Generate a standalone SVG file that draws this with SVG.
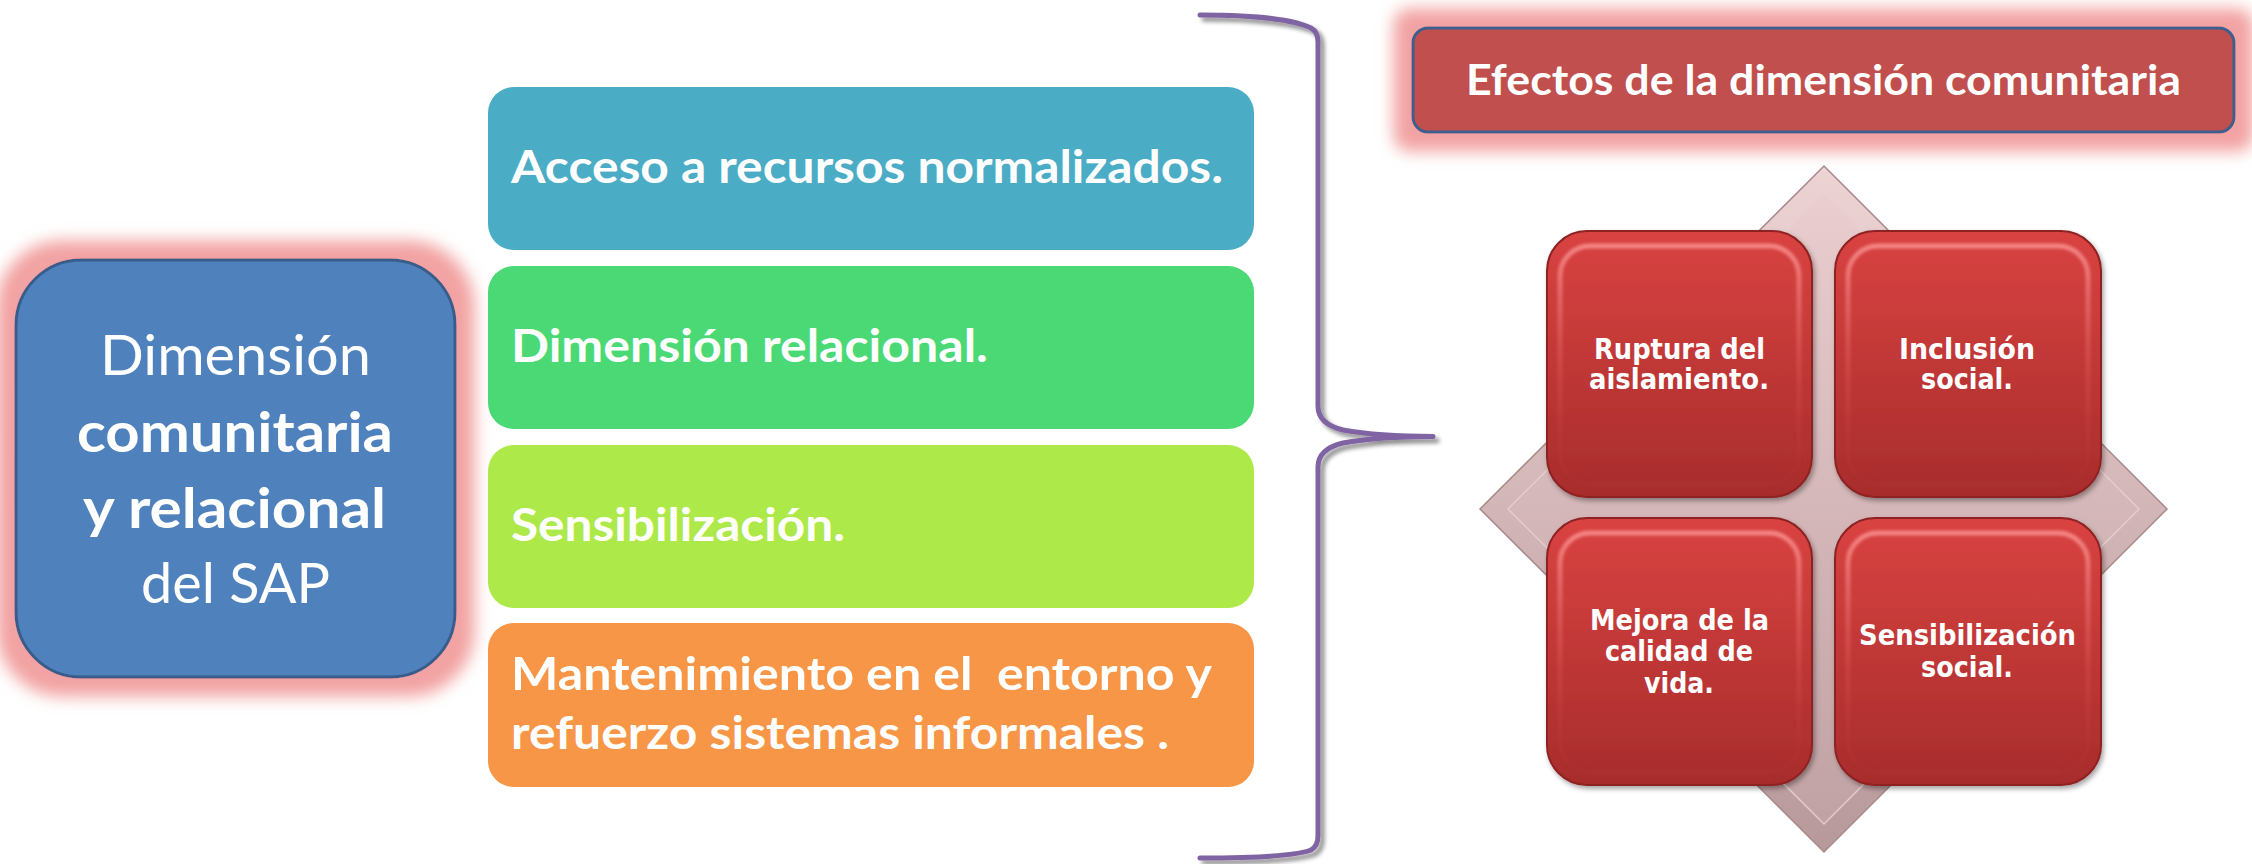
<svg xmlns="http://www.w3.org/2000/svg" width="2252" height="864" viewBox="0 0 2252 864">
<defs>
<style>
.cal{font-family:Lato,"Open Sans","Liberation Sans",sans-serif;fill:#fff}
.b{font-weight:bold}
.q{font-family:"DejaVu Sans Condensed","DejaVu Sans",sans-serif;font-weight:bold;font-size:29px;fill:#fff}
.quad{fill:url(#redGrad);stroke:#8E2222;stroke-width:2}
.bevel{fill:none;stroke:url(#bevelGrad);stroke-width:5;opacity:0.75}
</style>
<filter id="glow" x="-25%" y="-60%" width="150%" height="220%">
<feMorphology in="SourceAlpha" operator="dilate" radius="18" result="d"/>
<feGaussianBlur in="d" stdDeviation="8" result="b"/>
<feFlood flood-color="#F2A2A2" result="c"/>
<feComposite in="c" in2="b" operator="in" result="g"/>
<feMerge><feMergeNode in="g"/><feMergeNode in="SourceGraphic"/></feMerge>
</filter>
<filter id="shadow" x="-10%" y="-5%" width="130%" height="115%">
<feGaussianBlur in="SourceAlpha" stdDeviation="2" result="b"/>
<feOffset dx="4" dy="4" result="o"/>
<feFlood flood-color="#000" flood-opacity="0.45"/>
<feComposite in2="o" operator="in" result="s"/>
<feMerge><feMergeNode in="s"/><feMergeNode in="SourceGraphic"/></feMerge>
</filter>
<filter id="qshadow" x="-10%" y="-10%" width="125%" height="125%">
<feGaussianBlur in="SourceAlpha" stdDeviation="2.5" result="b"/>
<feOffset dx="2" dy="3" result="o"/>
<feFlood flood-color="#000" flood-opacity="0.35"/>
<feComposite in2="o" operator="in" result="s"/>
<feMerge><feMergeNode in="s"/><feMergeNode in="SourceGraphic"/></feMerge>
</filter>
<filter id="soft"><feGaussianBlur stdDeviation="1.5"/></filter>
<linearGradient id="redGrad" x1="0" y1="0" x2="0" y2="1">
<stop offset="0" stop-color="#D94341"/>
<stop offset="1" stop-color="#A82C2C"/>
</linearGradient>
<linearGradient id="bevelGrad" x1="0" y1="0" x2="0" y2="1">
<stop offset="0" stop-color="#FF9C9C"/>
<stop offset="0.5" stop-color="#E86060" stop-opacity="0.5"/>
<stop offset="1" stop-color="#B03030" stop-opacity="0.2"/>
</linearGradient>
<linearGradient id="diaGrad" x1="0" y1="0" x2="0" y2="1">
<stop offset="0" stop-color="#EDD3D4"/>
<stop offset="1" stop-color="#B8999B"/>
</linearGradient>
<linearGradient id="diaInner" x1="0" y1="0" x2="0" y2="1">
<stop offset="0" stop-color="#EACDCE"/>
<stop offset="1" stop-color="#C1A3A5"/>
</linearGradient>
</defs>
<rect width="2252" height="864" fill="#fff"/>

<g id="dimension-box">
<rect x="16" y="260" width="439" height="417" rx="65" fill="#4F81BD" stroke="#385D8A" stroke-width="3" filter="url(#glow)"/>
<text class="cal" font-size="56" x="100" y="375" textLength="271" lengthAdjust="spacingAndGlyphs">Dimensión</text>
<text class="cal b" font-size="56" x="77" y="452" textLength="316" lengthAdjust="spacingAndGlyphs">comunitaria</text>
<text class="cal b" font-size="56" x="83" y="528" textLength="303" lengthAdjust="spacingAndGlyphs">y relacional</text>
<text class="cal" font-size="56" x="141" y="603" textLength="189" lengthAdjust="spacingAndGlyphs">del SAP</text>
</g>

<g id="item-acceso">
<rect x="488" y="87" width="766" height="163" rx="26" fill="#4BACC6"/>
<text class="cal b" font-size="46" x="511" y="183" textLength="712" lengthAdjust="spacingAndGlyphs">Acceso a recursos normalizados.</text>
</g>
<g id="item-relacional">
<rect x="488" y="266" width="766" height="163" rx="26" fill="#4AD975"/>
<text class="cal b" font-size="46" x="511" y="362" textLength="477" lengthAdjust="spacingAndGlyphs">Dimensión relacional.</text>
</g>
<g id="item-sensibilizacion">
<rect x="488" y="445" width="766" height="163" rx="26" fill="#ADE948"/>
<text class="cal b" font-size="46" x="511" y="541" textLength="334" lengthAdjust="spacingAndGlyphs">Sensibilización.</text>
</g>
<g id="item-mantenimiento">
<rect x="488" y="623" width="766" height="164" rx="26" fill="#F79646"/>
<text class="cal b" font-size="46" x="511" y="690" textLength="701" lengthAdjust="spacingAndGlyphs" xml:space="preserve">Mantenimiento en el  entorno y</text>
<text class="cal b" font-size="46" x="511" y="749" textLength="658" lengthAdjust="spacingAndGlyphs">refuerzo sistemas informales .</text>
</g>

<g id="connectors">
<path d="M1200,15 C1255,15 1295,20 1311,28 Q1318,32 1318,42 L1318,406 Q1318,424 1343,430 C1370,435 1400,436.5 1433,436.5 C1400,436.5 1370,438 1343,443 Q1318,449 1318,467 L1318,836 Q1318,846 1311,850 C1295,856 1255,858 1200,858" fill="none" stroke="#8064A2" stroke-width="5" stroke-linecap="round" stroke-linejoin="round" filter="url(#shadow)"/>
</g>

<g id="efectos-header">
<rect x="1413" y="28" width="821" height="104" rx="15" fill="#C0504D" stroke="#3E5F8E" stroke-width="3" filter="url(#glow)"/>
<text class="cal b" font-size="42" x="1466" y="95" textLength="715" lengthAdjust="spacingAndGlyphs">Efectos de la dimensión comunitaria</text>
</g>

<g id="diamond">
<polygon points="1824,166 2167,509 1824,852 1480,509" fill="url(#diaGrad)" stroke="#A88A8C" stroke-width="1.5"/>
<polygon points="1824,194 2139,509 1824,824 1508,509" fill="url(#diaInner)" stroke="#E6D0D1" stroke-width="1.5" opacity="0.9"/>
</g>

<g id="efecto-ruptura">
<rect class="quad" x="1547" y="231" width="265" height="266" rx="40" filter="url(#qshadow)"/>
<rect class="bevel" x="1560" y="246" width="239" height="238" rx="30" filter="url(#soft)"/>
<text class="q" x="1594" y="359" textLength="171" lengthAdjust="spacingAndGlyphs">Ruptura del</text>
<text class="q" x="1589" y="389" textLength="180" lengthAdjust="spacingAndGlyphs">aislamiento.</text>
</g>
<g id="efecto-inclusion">
<rect class="quad" x="1835" y="231" width="266" height="266" rx="40" filter="url(#qshadow)"/>
<rect class="bevel" x="1848" y="246" width="240" height="238" rx="30" filter="url(#soft)"/>
<text class="q" x="1899" y="359" textLength="136" lengthAdjust="spacingAndGlyphs">Inclusión</text>
<text class="q" x="1921" y="389" textLength="92" lengthAdjust="spacingAndGlyphs">social.</text>
</g>
<g id="efecto-mejora">
<rect class="quad" x="1547" y="518" width="265" height="267" rx="40" filter="url(#qshadow)"/>
<rect class="bevel" x="1560" y="533" width="239" height="239" rx="30" filter="url(#soft)"/>
<text class="q" x="1590" y="630" textLength="179" lengthAdjust="spacingAndGlyphs">Mejora de la</text>
<text class="q" x="1605" y="661" textLength="148" lengthAdjust="spacingAndGlyphs">calidad de</text>
<text class="q" x="1644" y="693" textLength="70" lengthAdjust="spacingAndGlyphs">vida.</text>
</g>
<g id="efecto-sensibilizacion">
<rect class="quad" x="1835" y="518" width="266" height="267" rx="40" filter="url(#qshadow)"/>
<rect class="bevel" x="1848" y="533" width="240" height="239" rx="30" filter="url(#soft)"/>
<text class="q" x="1859" y="645" textLength="217" lengthAdjust="spacingAndGlyphs">Sensibilización</text>
<text class="q" x="1921" y="677" textLength="92" lengthAdjust="spacingAndGlyphs">social.</text>
</g>
</svg>
